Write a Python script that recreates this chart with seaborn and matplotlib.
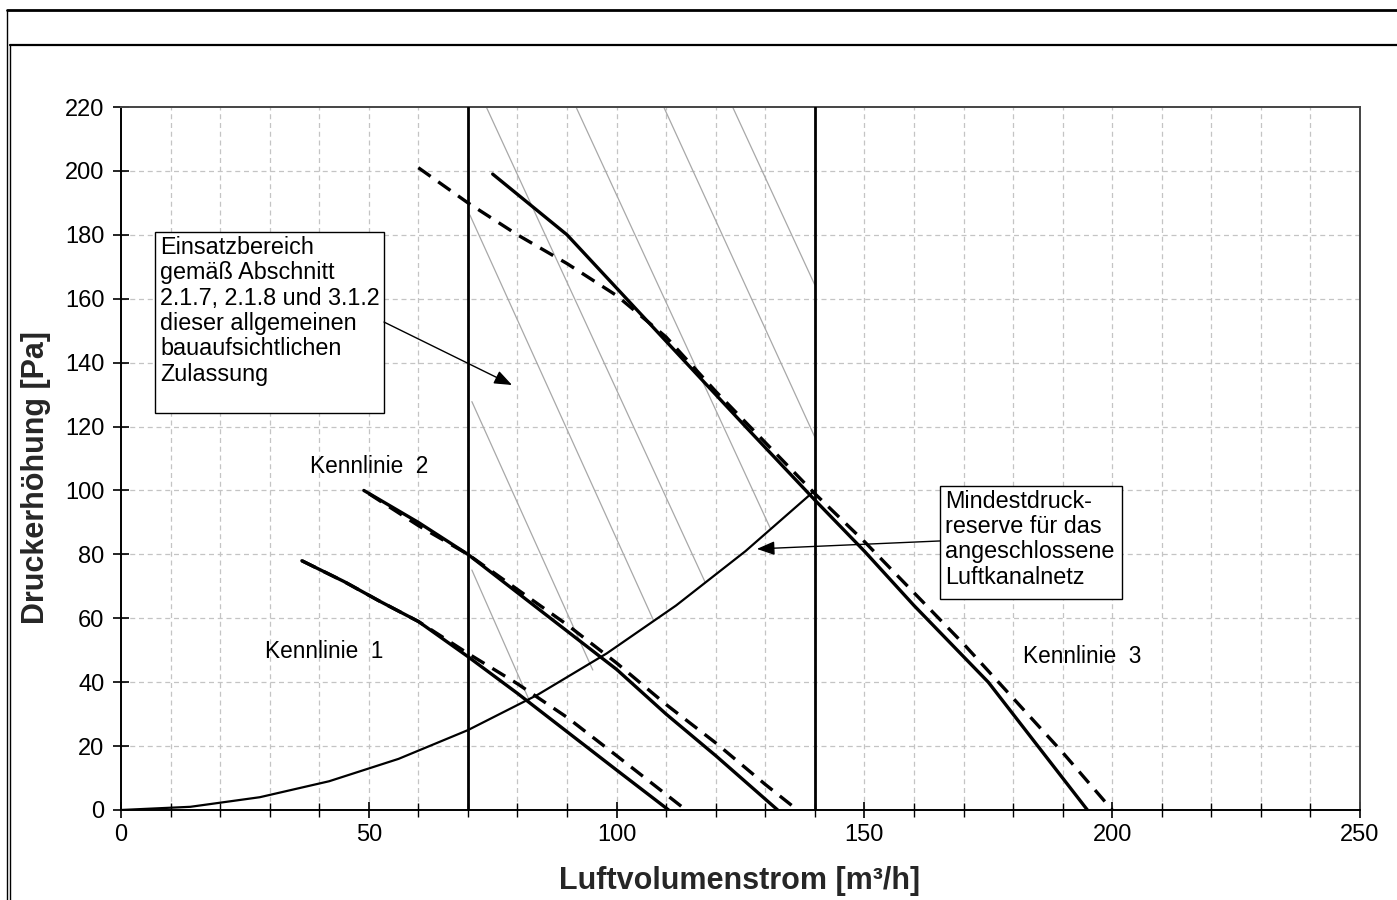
import matplotlib
matplotlib.use("Agg")
import matplotlib.pyplot as plt
from matplotlib.lines import Line2D
from matplotlib.patches import Rectangle
import seaborn as sns
import pandas as pd

# ---------------- data ----------------
k1_solid_x = [36.5, 45, 52, 60, 70, 80, 90, 100, 110.5]
k1_solid_y = [78, 71.5, 65.5, 59, 48, 36.5, 24.5, 12.5, 0]
k1_dash_x = [36.5, 45, 52, 60, 70, 80, 90, 100, 114]
k1_dash_y = [78, 71.5, 65.5, 59, 49, 39.5, 29, 17, 0]

k2_solid_x = [49, 60, 70, 80, 90, 100, 110, 120, 132.5]
k2_solid_y = [100, 90, 80, 68, 56, 44, 30, 17, 0]
k2_dash_x = [50, 60, 70, 80, 90, 100, 110, 120, 130, 136.5]
k2_dash_y = [99, 89, 80, 69, 58, 46, 33, 21, 8, 0]

k3_solid_x = [75, 90, 102, 114, 126, 140, 150, 160, 175, 185, 195]
k3_solid_y = [199, 180, 160, 140, 120, 97, 81, 64, 40, 20, 0]
k3_dash_x = [60, 70, 80, 90, 100, 110, 120, 130, 140, 150, 160, 170, 180, 190, 200]
k3_dash_y = [201, 190, 180, 171, 161, 148, 131, 115, 99, 84, 68, 52, 35, 18, 0]

system_x = [0, 14, 28, 42, 56, 70, 84, 98, 112, 126, 140]
system_y = [0, 1, 4, 9, 16, 25, 36, 49, 64, 81, 100]

limit_x = [70, 140]

# hatch lines of the application range: (x_start, y_start, x_end, y_end)
hatch_x0 = [73.8, 91.9, 109.6, 123.5, 70.4, 70.8, 70.8]
hatch_y0 = [219.7, 219.7, 219.7, 219.7, 186.2, 127.8, 75.1]
hatch_x1 = [117.8, 131.0, 140.0, 140.0, 107.4, 95.2, 82.5]
hatch_y1 = [71.5, 88.2, 116.7, 164.3, 59.5, 43.8, 33.9]

x_major = [0, 50, 100, 150, 200, 250]
y_major = [0, 20, 40, 60, 80, 100, 120, 140, 160, 180, 200, 220]

box1_text = "Einsatzbereich\ngemäß Abschnitt\n2.1.7, 2.1.8 und 3.1.2\ndieser allgemeinen\nbauaufsichtlichen\nZulassung"
box2_text = "Mindestdruck-\nreserve für das\nangeschlossene\nLuftkanalnetz"

# ---------------- style ----------------
sns.set_theme(style="white")
plt.rcParams['font.family'] = ['Liberation Sans', 'DejaVu Sans']
plt.rcParams['text.color'] = 'black'

W, H = 1397, 900
fig = plt.figure(figsize=(W / 100, H / 100), dpi=100)
ax = fig.add_axes([121 / W, 1 - 810 / H, (1360 - 121) / W, (810 - 107) / H])

ax.set_xlim(0, 250)
ax.set_ylim(0, 220)

# grid
grid_kw = dict(color='#c4c4c4', lw=0.9, ls=(0, (4, 3)), zorder=0)
for gx in range(10, 250, 10):
    ax.axvline(gx, **grid_kw)
for gy in y_major[1:-1]:
    ax.axhline(gy, **grid_kw)

# hatch lines
for xa, ya, xb, yb in zip(hatch_x0, hatch_y0, hatch_x1, hatch_y1):
    ax.plot([xa, xb], [ya, yb], color='#a8a8a8', lw=0.9, zorder=1)

# limits of application range
for lx in limit_x:
    ax.plot([lx, lx], [0, 220], color='black', lw=2.0, zorder=3)

# system curve
sns.lineplot(x=system_x, y=system_y, ax=ax, color='black', lw=1.6, zorder=4, sort=False)

dash = (0, (4.5, 2.8))
curves = [
    (k1_dash_x, k1_dash_y, dash),
    (k2_dash_x, k2_dash_y, dash),
    (k3_dash_x, k3_dash_y, dash),
    (k1_solid_x, k1_solid_y, '-'),
    (k2_solid_x, k2_solid_y, '-'),
    (k3_solid_x, k3_solid_y, '-'),
]
for cx, cy, ls in curves:
    df = pd.DataFrame({'x': cx, 'y': cy})
    sns.lineplot(data=df, x='x', y='y', ax=ax, color='black', lw=2.4,
                 linestyle=ls, zorder=5, sort=False)

# annotation boxes
txt_fs = 16.8
ax.add_patch(Rectangle((6.86, 124.3), 53.07 - 6.86, 180.9 - 124.3, fill=True,
                       facecolor='white', edgecolor='black', lw=1.0, zorder=6))
ax.text(7.9, 179.6, box1_text, ha='left', va='top', fontsize=txt_fs,
        linespacing=1.13, zorder=7)
ax.add_patch(Rectangle((165.3, 66.0), 202.0 - 165.3, 101.4 - 66.0, fill=True,
                       facecolor='white', edgecolor='black', lw=1.0, zorder=6))
ax.text(166.3, 100.2, box2_text, ha='left', va='top', fontsize=txt_fs,
        linespacing=1.13, zorder=7)

arrow_kw = dict(arrowstyle='-|>,head_length=0.9,head_width=0.35', color='black',
                lw=1.0, shrinkA=0, shrinkB=0)
ax.annotate('', xy=(78.9, 133.0), xytext=(53.07, 152.7), arrowprops=arrow_kw, zorder=7)
ax.annotate('', xy=(128.3, 81.7), xytext=(165.3, 84.2), arrowprops=arrow_kw, zorder=7)

# curve labels
ax.text(38.1, 107.4, "Kennlinie  2", ha='left', va='center', fontsize=16.3)
ax.text(29.1, 49.5, "Kennlinie  1", ha='left', va='center', fontsize=16.3)
ax.text(182.0, 47.9, "Kennlinie  3", ha='left', va='center', fontsize=16.3)

# ticks
ax.set_xticks(x_major)
ax.set_xticks(list(range(0, 251, 10)), minor=True)
ax.set_yticks(y_major)
ax.tick_params(axis='both', which='major', direction='inout', length=12, width=1.2,
               color='black', labelsize=17, labelcolor='black', pad=6)
ax.tick_params(axis='x', which='minor', direction='inout', length=10, width=1.0,
               color='black')
ax.tick_params(axis='x', which='major', pad=4)
ax.tick_params(left=True, bottom=True, which='both')
ax.tick_params(axis='y', which='minor', left=False)

for s in ['left', 'bottom']:
    ax.spines[s].set_color('black')
    ax.spines[s].set_linewidth(1.4)
for s in ['top', 'right']:
    ax.spines[s].set_color('#444444')
    ax.spines[s].set_linewidth(1.4)

ax.set_xlabel("Luftvolumenstrom [m³/h]", fontsize=22, fontweight='bold')
ax.set_ylabel("Druckerhöhung [Pa]", fontsize=22, fontweight='bold')
ax.xaxis.set_label_coords((740 - 121) / 1239, (810 - 866) / 703)
ax.yaxis.set_label_coords((51 - 121) / 1239, (810 - 477) / 703)

# outer frame
def fl(x0, y0, x1, y1, lw):
    fig.add_artist(Line2D([x0 / W, x1 / W], [1 - y0 / H, 1 - y1 / H],
                          color='black', lw=lw, transform=fig.transFigure))

fl(6.5, 10, W, 10, 2.0)
fl(9.5, 45, W, 45, 1.6)
fl(6.5, 10, 6.5, H, 1.0)
fl(9.5, 45, 9.5, H, 1.0)

fig.savefig("out.png", dpi=100)
